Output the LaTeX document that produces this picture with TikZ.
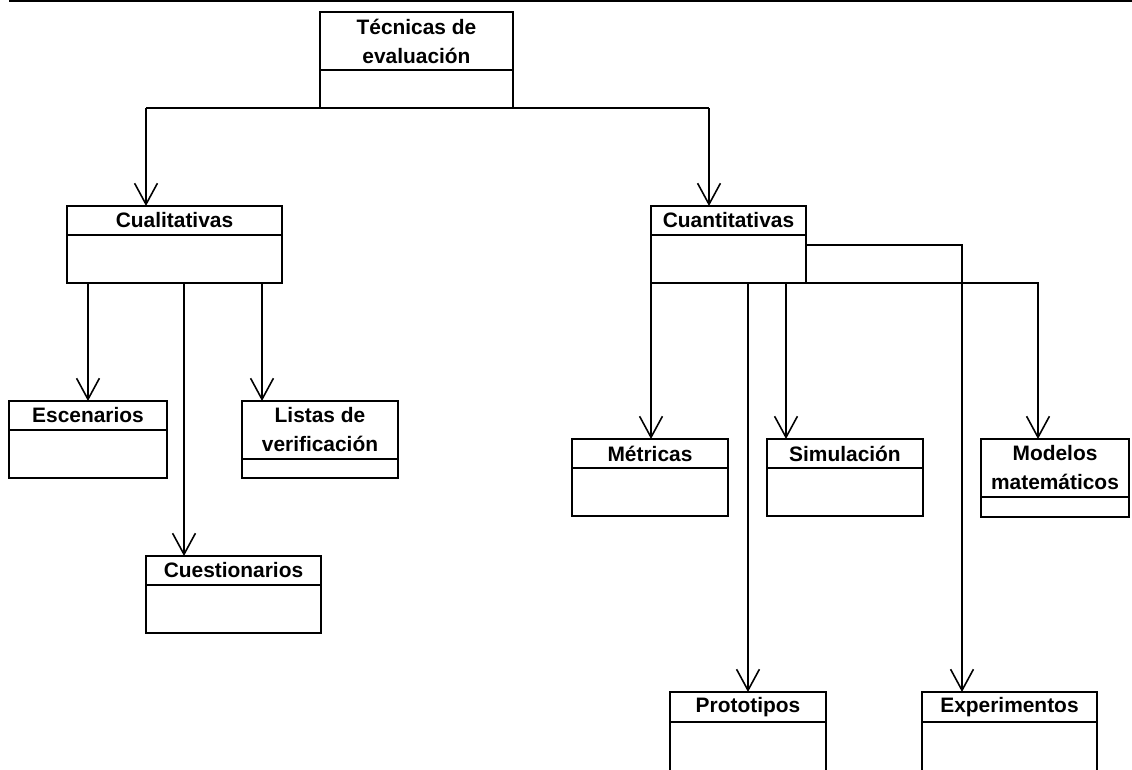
\documentclass[tikz,border=0pt]{standalone}
\usepackage{fontspec}
\setmainfont{Liberation Sans}
\usepackage{tikz}
\usetikzlibrary{arrows.meta}

\begin{document}
\begin{tikzpicture}[x=0.02cm, y=-0.02cm, line width=0.9pt,
		>={Straight Barb[length=12pt,width=13pt]},
		head/.style={draw, outer sep=0pt, inner sep=0pt,
		             anchor=north west, align=center, minimum height=0.58cm,
		             font=\bfseries\fontsize{11.9}{16.5}\selectfont},
		body/.style={draw, outer sep=0pt, inner sep=0pt,
		             anchor=north, minimum height=0.96cm}]
		\useasboundingbox (0,0) rectangle (1132,769);
		\clip (0,0) rectangle (1132,769);
		\draw[line width=2.2pt] (9,0) -- (1132,0);

		% classes
		\node[head, minimum width=3.86cm, minimum height=1.16cm] (tec) at (320,12) {Técnicas de\\evaluación};
		\node[body, minimum width=3.86cm, minimum height=0.76cm] (tec-b) at (tec.south) {};
		\node[head, minimum width=4.3cm] (cual) at (67,206) {Cualitativas};
		\node[body, minimum width=4.3cm] (cual-b) at (cual.south) {};
		\node[head, minimum width=3.1cm] (cuan) at (651,206) {Cuantitativas};
		\node[body, minimum width=3.1cm] (cuan-b) at (cuan.south) {};

		\node[head, minimum width=3.16cm] (esc) at (9,401) {Escenarios};
		\node[body, minimum width=3.16cm] (esc-b) at (esc.south) {};
		\node[head, minimum width=3.12cm, minimum height=1.16cm] (lis) at (242,401) {Listas de\\verificación};
		\node[body, minimum width=3.12cm, minimum height=0.38cm] (lis-b) at (lis.south) {};
		\node[head, minimum width=3.5cm] (cues) at (146,556) {Cuestionarios};
		\node[body, minimum width=3.5cm] (cues-b) at (cues.south) {};

		\node[head, minimum width=3.12cm] (met) at (572,439) {Métricas};
		\node[body, minimum width=3.12cm] (met-b) at (met.south) {};
		\node[head, minimum width=3.12cm] (sim) at (767,439) {Simulación};
		\node[body, minimum width=3.12cm] (sim-b) at (sim.south) {};
		\node[head, minimum width=2.96cm, minimum height=1.16cm] (mod) at (981,439) {Modelos\\matemáticos};
		\node[body, minimum width=2.96cm, minimum height=0.4cm] (mod-b) at (mod.south) {};
		% cut off by the bottom edge
		\node[head, minimum width=3.12cm, minimum height=0.6cm] (pro) at (670,692) {Prototipos};
		\node[body, minimum width=3.12cm, minimum height=1.2cm] (pro-b) at (pro.south) {};
		\node[head, minimum width=3.5cm, minimum height=0.6cm] (exp) at (922,692) {Experimentos};
		\node[body, minimum width=3.5cm, minimum height=1.2cm] (exp-b) at (exp.south) {};

		% top level
		\coordinate (j-cual) at (146,108);
		\coordinate (j-cuan) at (709,108);
		\draw (j-cual) -- (j-cuan);
		\draw[->] (j-cual) -- (j-cual |- cual.north);
		\draw[->] (j-cuan) -- (j-cuan |- cuan.north);

		% cualitativas
		\coordinate (d-cues) at (184,283);
		\coordinate (d-lis) at (262,283);
		\draw[->] (esc.north |- cual-b.south) -- (esc.north);
		\draw[->] (d-cues) -- (d-cues |- cues.north);
		\draw[->] (d-lis) -- (d-lis |- lis.north);

		% cuantitativas
		\coordinate (d-sim) at (786,283);
		\coordinate (d-mod) at (1038,283);
		\coordinate (d-exp) at (962,245);
		\draw[->] (cuan-b.south west) -- (cuan-b.south west |- met.north);
		\draw[->] (pro.north |- cuan-b.south) -- (pro.north);
		\draw[->] (d-sim) -- (d-sim |- sim.north);
		\draw[->] (cuan-b.south west) -- (d-mod) -- (d-mod |- mod.north);
		\draw[->] (cuan-b.east |- d-exp) -- (d-exp) -- (d-exp |- exp.north);
\end{tikzpicture}
\end{document}
